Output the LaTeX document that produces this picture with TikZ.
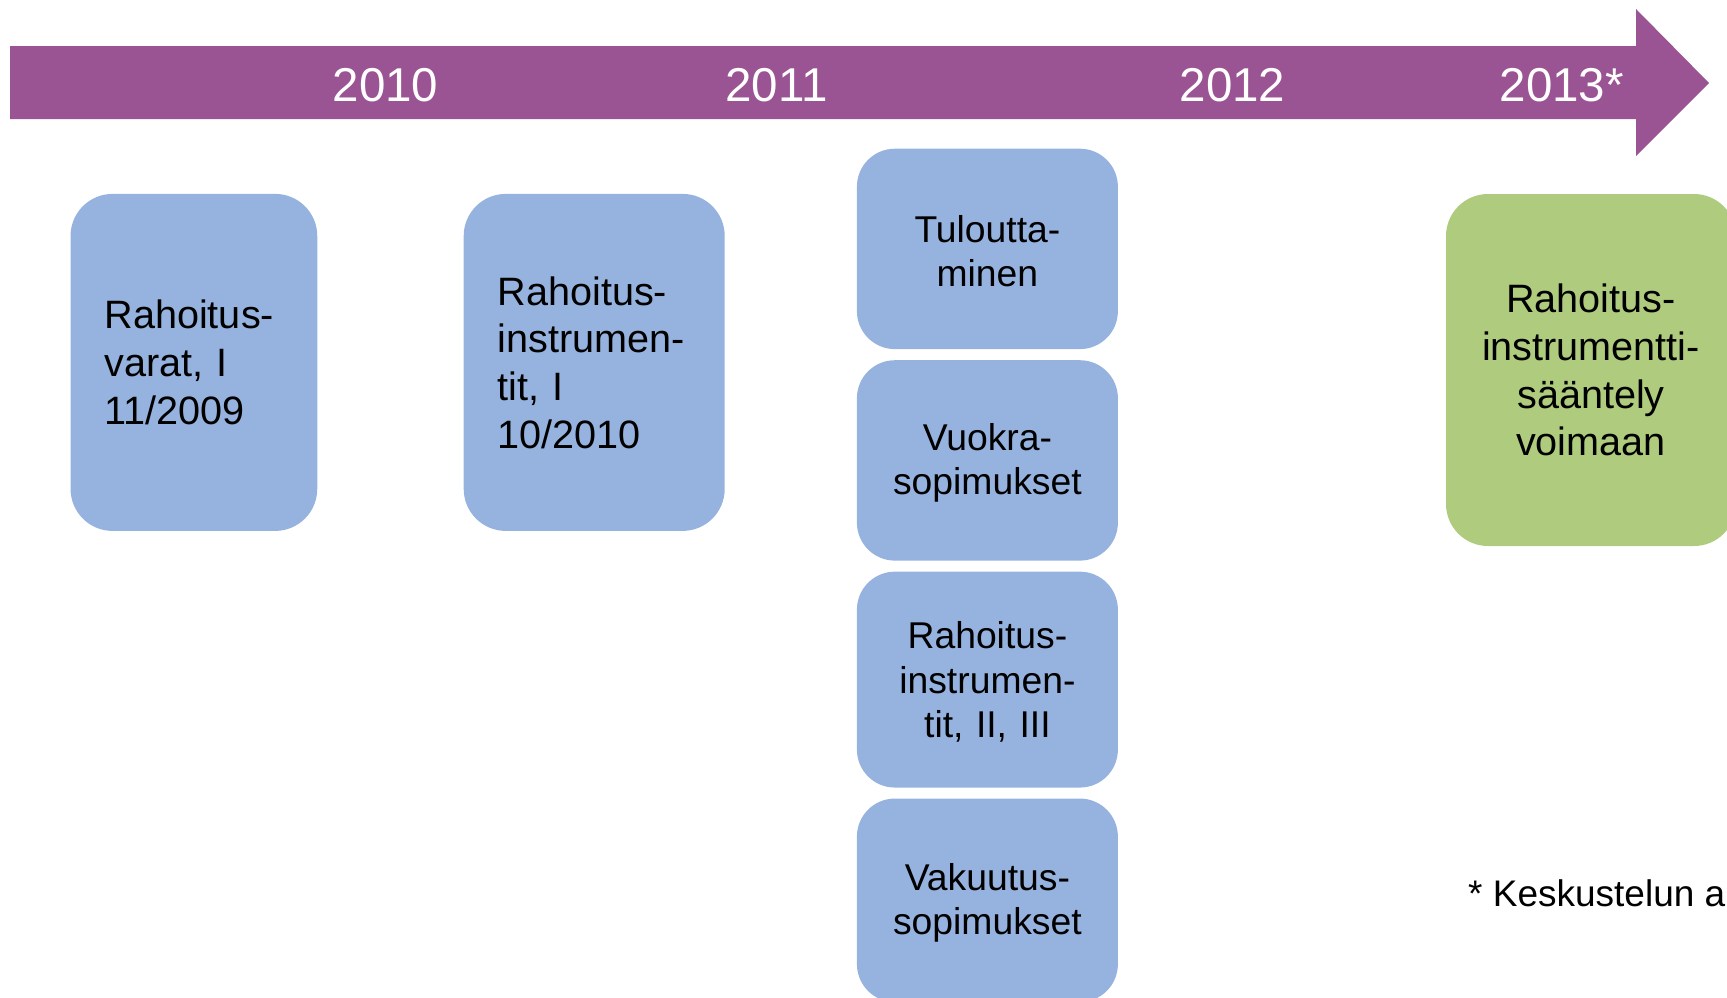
\documentclass[tikz,border=0pt]{standalone}
\usepackage{fontspec}
\setmainfont{Liberation Sans}
\definecolor{timeline}{RGB}{155,84,147}
\definecolor{boxblue}{RGB}{149,179,222}
\definecolor{boxgreen}{RGB}{175,203,126}
\begin{document}
\begin{tikzpicture}[x=1pt,y=-1pt,
  yearlabel/.style={text=white, inner sep=0pt, font=\fontsize{47.5}{57}\selectfont},
  card/.style={fill=boxblue, rounded corners=42pt, inner xsep=34pt, inner ysep=0pt,
    font=\fontsize{39.6}{47.7}\selectfont},
  leftcard/.style={card, align=left},
  smallcard/.style={fill=boxblue, rounded corners=38pt, inner sep=0pt,
    minimum width=261pt},
  smalltext/.style={align=center, inner sep=0pt, text width=261pt,
    font=\fontsize{37.3}{44.3}\selectfont},
  goalcard/.style={card, fill=boxgreen, align=center, inner xsep=0pt,
    text width=290pt, minimum width=290pt, minimum height=352pt},
  note/.style={inner sep=0pt, font=\fontsize{37}{44}\selectfont}]
\useasboundingbox (0,0) rectangle (1727,997);
\clip (0,0) rectangle (1727,997);

% timeline arrow
\fill[timeline] (10,46) -- (1636,46) -- (1636,9) -- (1709,83) -- (1636,156)
  -- (1636,119) -- (10,119) -- cycle;

\node[yearlabel] (y2010) at (385.5,84.8) {2010};
\node[yearlabel] (y2011) at (776.5,84.8) {2011};
\node[yearlabel] (y2012) at (1232.5,84.8) {2012};
\node[yearlabel] (y2013) at (1561.8,84.8) {2013*};

% standards already in force
\node[leftcard, text width=178.7pt, minimum height=337pt] (varat) at (193.9,362.4)
  {Rahoitus-\\varat, I\\11/2009};
\node[leftcard, text width=193pt, minimum height=337pt] (instr1) at (594.2,362.4)
  {Rahoitus-\\instrumen-\\tit, I\\10/2010};

% 2011 projects: card shapes, then their captions
\node[smallcard, minimum height=200.4pt] (tulout) at (987.4,248.9) {};
\node[smallcard, minimum height=200.4pt] (vuokra) at (987.4,460.4) {};
\node[smallcard, minimum height=215.9pt] (instr2) at (987.4,679.6) {};
\node[smallcard, minimum height=203.5pt] (vakuutus) at (987.4,900.3) {};

\node[smalltext] (tuloutT) at ([yshift=-2.5pt]tulout.center) {Tuloutta-\\minen};
\node[smalltext] (vuokraT) at ([yshift=-2.5pt]vuokra.center) {Vuokra-\\sopimukset};
\node[smalltext] (instr2T) at ([yshift=-2.5pt]instr2.center)
  {Rahoitus-\\instrumen-\\tit, II, III};
\node[smalltext] (vakuutusT) at ([yshift=-2.5pt]vakuutus.center) {Vakuutus-\\sopimukset};

% effective date
\node[goalcard] (voimaan) at (1591,370)
  {Rahoitus-\\instrumentti-\\s\"a\"antely\\voimaan};

\node[note, anchor=base west] (footnote) at (1468,906) {* Keskustelun a};
\end{tikzpicture}
\end{document}
